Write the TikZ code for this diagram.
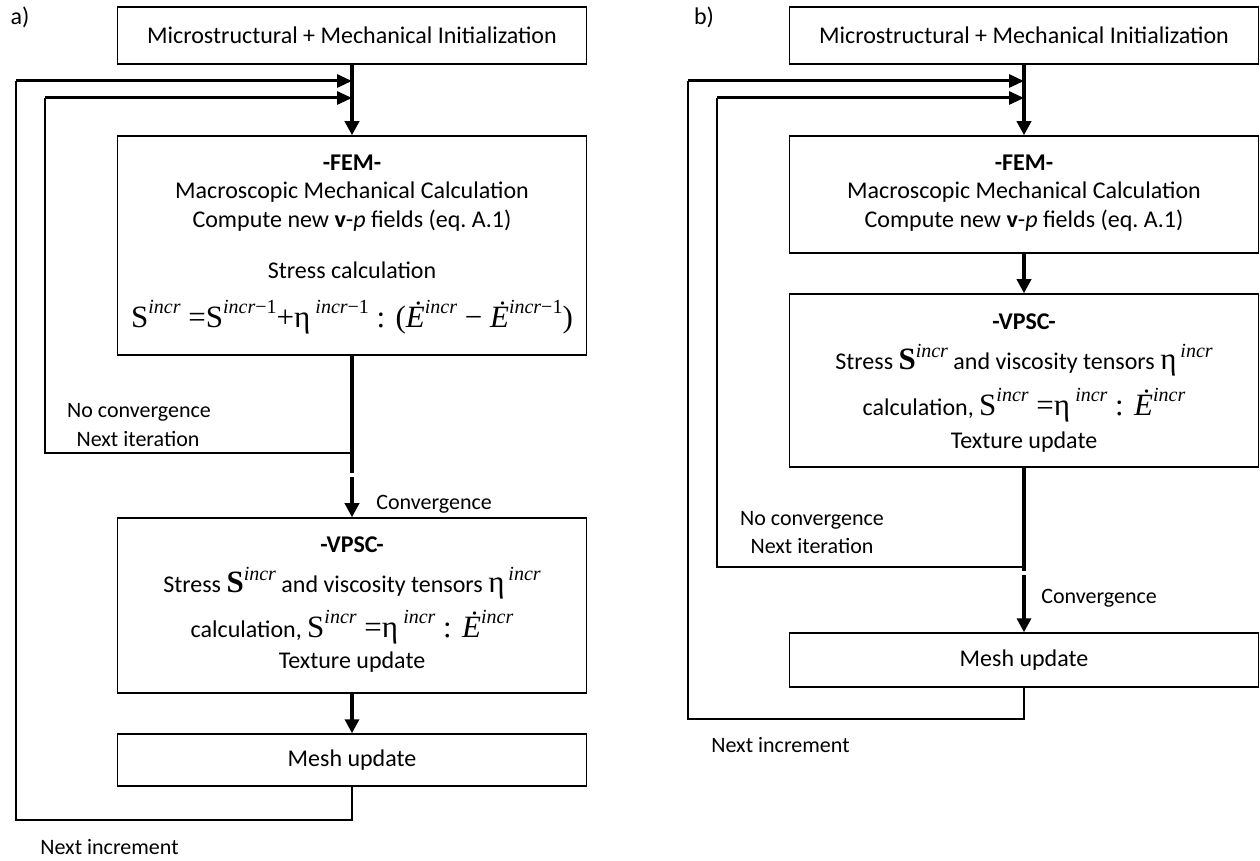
\documentclass[tikz,border=0pt]{standalone}
\usepackage{fontspec}
\setmainfont{Carlito}
\newfontfamily\timesfont{Liberation Serif}
\usetikzlibrary{arrows.meta,positioning}

\newcommand{\eqfont}{\timesfont\fontsize{15.5}{15.5}\selectfont}
\newcommand{\up}[1]{\raisebox{1ex}{\timesfont\fontsize{10}{10}\selectfont\itshape #1}}
\newcommand{\mone}{{\upshape −1}}
\newcommand{\Edot}{{\itshape\.E}}

\tikzset{
  box/.style={draw, line width=0.75pt, minimum width=234.5pt, inner sep=0pt},
  txt/.style={inner sep=0pt, font=\fontsize{12}{14}\selectfont},
  lbl/.style={inner sep=0pt, font=\fontsize{11}{13}\selectfont},
  flow/.style={line width=1.7pt, -{Triangle[length=7pt, width=7pt]}},
  feed/.style={line width=1.5pt, -{Triangle[length=7.5pt, width=6.5pt]}},
  main/.style={line width=1.7pt},
  back/.style={line width=0.75pt}
}

\begin{document}
\begin{tikzpicture}[x=0.5pt, y=-0.5pt, font=\fontsize{12}{14}\selectfont]
  \useasboundingbox (0,0) rectangle (1260,861);

  % ---------- a) ----------
  \node[txt] (laba) at (20,17) {a)};
  \node[box, minimum height=28.5pt] (inita) at (352,35.5) {Microstructural + Mechanical Initialization};
  \node[box, minimum height=109.5pt] (fema) at (352,245.5) {};
  \node[box, minimum height=87.5pt] (vpsca) at (352,605.5) {};
  \node[box, minimum height=26pt] (mesha) at (352,760) {Mesh update};

  % FEM text
  \node[txt] (femta) at (352,163) {\bfseries -FEM-};
  \node[txt] (macra) at (352,192) {Macroscopic Mechanical Calculation};
  \node[txt] (compa) at (352,221) {Compute new \textbf{v}-\textit{p} fields (eq.\ A.1)};
  \node[txt] (stra) at (352,270) {Stress calculation};
  \node[txt] (eqa) at (352,317) {\eqfont S\up{incr} =S\up{incr\mone}+η\,\up{incr\mone} : (\Edot\up{incr} − \Edot\up{incr\mone})};

  % VPSC text
  \node[txt] (vpta) at (352,545) {\bfseries -VPSC-};
  \node[txt] (tensa) at (352,583) {Stress {\eqfont\bfseries S}\up{incr} and viscosity tensors {\eqfont η}\,\up{incr}};
  \node[txt] (calca) at (352,627) {calculation, {\eqfont S\up{incr} =η\,\up{incr} : \Edot\up{incr}}};
  \node[txt] (texa) at (352,662) {Texture update};

  % loops
  \coordinate (outa) at (16,81);
  \coordinate (ina) at (45,98);
  \coordinate (joina) at (352,453);
  \coordinate (gapa) at (352,473);
  \coordinate (gapb) at (352,477);
  \coordinate (incra) at (352,820);

  \draw[flow] (inita) -- (fema);
  \draw[main] (fema) -- (gapa);
  \draw[flow] (gapb) -- (vpsca);
  \draw[flow] (vpsca) -- (mesha);
  \draw[back] (joina) -- (joina -| ina) -- (ina);
  \draw[feed] (ina) -- (ina -| inita);
  \draw[back] (mesha) -- (incra) -- (incra -| outa) -- (outa);
  \draw[feed] (outa) -- (outa -| inita);

  \node[lbl] (noca) at (139,412) {No convergence};
  \node[lbl] (nita) at (138,439) {Next iteration};
  \node[lbl, anchor=west] (cona) at (376,504) {Convergence};
  \node[lbl, anchor=west] (nincra) at (40,847) {Next increment};

  % ---------- b) ----------
  \node[txt] (labb) at (704,17) {b)};
  \node[box, minimum height=28.5pt] (initb) at (1024,35.5) {Microstructural + Mechanical Initialization};
  \node[box, minimum height=58.5pt] (femb) at (1024,194.5) {};
  \node[box, minimum height=86.5pt] (vpscb) at (1024,380.5) {};
  \node[box, minimum height=27pt] (meshb) at (1024,660) {Mesh update};

  % FEM text
  \node[txt] (femtb) at (1024,163) {\bfseries -FEM-};
  \node[txt] (macrb) at (1024,192) {Macroscopic Mechanical Calculation};
  \node[txt] (compb) at (1024,221) {Compute new \textbf{v}-\textit{p} fields (eq.\ A.1)};

  % VPSC text
  \node[txt] (vptb) at (1024,322) {\bfseries -VPSC-};
  \node[txt] (tensb) at (1024,360) {Stress {\eqfont\bfseries S}\up{incr} and viscosity tensors {\eqfont η}\,\up{incr}};
  \node[txt] (calcb) at (1024,405) {calculation, {\eqfont S\up{incr} =η\,\up{incr} : \Edot\up{incr}}};
  \node[txt] (texb) at (1024,442) {Texture update};

  % loops
  \coordinate (outb) at (688,81);
  \coordinate (inb) at (717,98);
  \coordinate (joinb) at (1024,567);
  \coordinate (gapc) at (1024,571);
  \coordinate (gapd) at (1024,575);
  \coordinate (incrb) at (1024,719);

  \draw[flow] (initb) -- (femb);
  \draw[flow] (femb) -- (vpscb);
  \draw[main] (vpscb) -- (gapc);
  \draw[flow] (gapd) -- (meshb);
  \draw[back] (joinb) -- (joinb -| inb) -- (inb);
  \draw[feed] (inb) -- (inb -| initb);
  \draw[back] (meshb) -- (incrb) -- (incrb -| outb) -- (outb);
  \draw[feed] (outb) -- (outb -| initb);

  \node[lbl] (nocb) at (812,520) {No convergence};
  \node[lbl] (nitb) at (812,546) {Next iteration};
  \node[lbl, anchor=west] (conb) at (1041,598) {Convergence};
  \node[lbl, anchor=west] (nincrb) at (711,745) {Next increment};
\end{tikzpicture}
\end{document}
